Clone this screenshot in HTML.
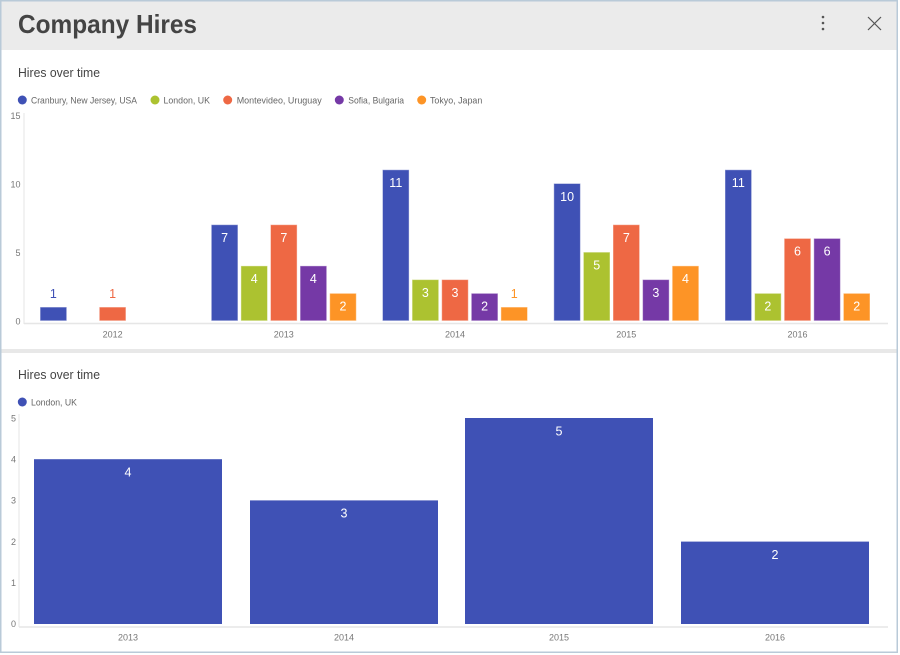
<!DOCTYPE html>
<html><head><meta charset="utf-8"><style>
html,body{margin:0;padding:0;background:#fff;}
svg{display:block;font-family:"Liberation Sans",sans-serif;}
</style></head><body>
<svg width="900" height="655" viewBox="0 0 900 655" xmlns="http://www.w3.org/2000/svg">
<rect x="0" y="0" width="900" height="655" fill="#fff"/>
<!-- header -->
<rect x="1" y="1" width="896" height="49" fill="#ebebeb"/>
<text x="18" y="33" font-size="26" font-weight="bold" fill="#444" textLength="179" lengthAdjust="spacingAndGlyphs">Company Hires</text>
<circle cx="823" cy="17" r="1.3" fill="#555"/>
<circle cx="823" cy="23" r="1.3" fill="#555"/>
<circle cx="823" cy="29" r="1.3" fill="#555"/>
<line x1="868" y1="17" x2="881" y2="30" stroke="#555" stroke-width="1.2"/>
<line x1="881" y1="17" x2="868" y2="30" stroke="#555" stroke-width="1.2"/>
<!-- divider -->
<rect x="1" y="349" width="896" height="4" fill="#e8e8e8"/>
<!-- outer border -->
<rect x="0.75" y="0.75" width="896.5" height="651.5" fill="none" stroke="#b9cad8" stroke-width="1.5"/>

<!-- Chart 1 -->
<text x="18" y="77" font-size="12.5" fill="#444" textLength="82" lengthAdjust="spacingAndGlyphs">Hires over time</text>
<g font-size="9.5" fill="#666">
<circle cx="22.3" cy="100" r="4.5" fill="#3f51b5"/><text x="31" y="103.3" textLength="106" lengthAdjust="spacingAndGlyphs">Cranbury, New Jersey, USA</text>
<circle cx="155" cy="100" r="4.5" fill="#acc230"/><text x="163.5" y="103.3" textLength="46.5" lengthAdjust="spacingAndGlyphs">London, UK</text>
<circle cx="227.7" cy="100" r="4.5" fill="#ee6844"/><text x="236.7" y="103.3" textLength="85" lengthAdjust="spacingAndGlyphs">Montevideo, Uruguay</text>
<circle cx="339.3" cy="100" r="4.5" fill="#7539a6"/><text x="348.3" y="103.3" textLength="55.7" lengthAdjust="spacingAndGlyphs">Sofia, Bulgaria</text>
<circle cx="421.7" cy="100" r="4.5" fill="#fd9426"/><text x="430" y="103.3" textLength="52.3" lengthAdjust="spacingAndGlyphs">Tokyo, Japan</text>
</g>
<g font-size="9" fill="#777" text-anchor="end">
<text x="20.5" y="119">15</text>
<text x="20.5" y="187.5">10</text>
<text x="20.5" y="256">5</text>
<text x="20.5" y="324.5">0</text>
</g>
<line x1="24" y1="113" x2="24" y2="324" stroke="#e6e6e6" stroke-width="1"/>
<line x1="24" y1="323.5" x2="888" y2="323.5" stroke="#e6e6e6" stroke-width="1.5"/>
<g font-size="9" fill="#777" text-anchor="middle">
<text x="112.6" y="337.5">2012</text>
<text x="283.8" y="337.5">2013</text>
<text x="455" y="337.5">2014</text>
<text x="626.3" y="337.5">2015</text>
<text x="797.5" y="337.5">2016</text>
</g>
<g id="bars1" stroke="rgba(255,255,255,0.45)" stroke-width="1"></g>
<g id="lbl1" font-size="12.5" text-anchor="middle"></g>

<!-- Chart 2 -->
<text x="18" y="379" font-size="12.5" fill="#444" textLength="82" lengthAdjust="spacingAndGlyphs">Hires over time</text>
<circle cx="22.3" cy="402" r="4.5" fill="#3f51b5"/>
<text x="31" y="405.3" font-size="9.5" fill="#666" textLength="46" lengthAdjust="spacingAndGlyphs">London, UK</text>
<g font-size="9" fill="#777" text-anchor="end">
<text x="16" y="421.5">5</text>
<text x="16" y="462.5">4</text>
<text x="16" y="503.5">3</text>
<text x="16" y="545">2</text>
<text x="16" y="586">1</text>
<text x="16" y="627">0</text>
</g>
<line x1="19" y1="414" x2="19" y2="627" stroke="#e6e6e6" stroke-width="1"/>
<line x1="19" y1="627" x2="888" y2="627" stroke="#e6e6e6" stroke-width="1.5"/>
<g fill="#3f51b5">
<rect x="34" y="459.2" width="188" height="164.8"/>
<rect x="250" y="500.4" width="188" height="123.6"/>
<rect x="465" y="418" width="188" height="206"/>
<rect x="681" y="541.6" width="188" height="82.4"/>
</g>
<g font-size="12.5" fill="#fff" text-anchor="middle">
<text x="128" y="476.5">4</text>
<text x="344" y="517.7">3</text>
<text x="559" y="435.3">5</text>
<text x="775" y="558.9">2</text>
</g>
<g font-size="9" fill="#777" text-anchor="middle">
<text x="128" y="640.5">2013</text>
<text x="344" y="640.5">2014</text>
<text x="559" y="640.5">2015</text>
<text x="775" y="640.5">2016</text>
</g>
</svg>
<script>
(function(){
var ns="http://www.w3.org/2000/svg";
var centers=[112.6,283.8,455,626.3,797.5];
var colors=["#3f51b5","#acc230","#ee6844","#7539a6","#fd9426"];
var data=[[1,7,11,10,11],[0,4,3,5,2],[1,7,3,7,6],[0,4,2,3,6],[0,2,1,4,2]];
var base=320.8,unit=13.73,pitch=29.6,w=26.6;
var gb=document.getElementById("bars1"),gl=document.getElementById("lbl1");
for(var s=0;s<5;s++){for(var i=0;i<5;i++){var v=data[s][i];if(!v)continue;
var x=centers[i]+(s-2)*pitch-w/2;var h=v*unit;var y=base-h;
var r=document.createElementNS(ns,"rect");r.setAttribute("x",x);r.setAttribute("y",y);r.setAttribute("width",w);r.setAttribute("height",h);r.setAttribute("fill",colors[s]);gb.appendChild(r);
var t=document.createElementNS(ns,"text");t.setAttribute("x",x+w/2);
if(v>=2){t.setAttribute("y",y+17.3);t.setAttribute("fill","#fff");}else{t.setAttribute("y",y-9);t.setAttribute("fill",colors[s]);}
t.textContent=String(v);gl.appendChild(t);}}
})();
</script>
</body></html>
